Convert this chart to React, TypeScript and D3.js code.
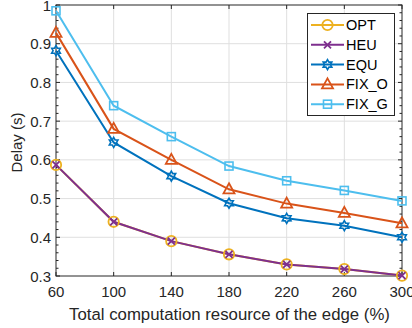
import React, { useEffect, useRef } from 'react';
import * as d3 from 'd3';

const resources = [60, 100, 140, 180, 220, 260, 300];
const optDelay = [0.587, 0.44, 0.39, 0.356, 0.33, 0.318, 0.301];
const heuDelay = [0.587, 0.44, 0.39, 0.356, 0.33, 0.318, 0.301];
const equDelay = [0.882, 0.645, 0.558, 0.488, 0.449, 0.43, 0.4];
const fixODelay = [0.928, 0.68, 0.6, 0.524, 0.487, 0.463, 0.436];
const fixGDelay = [0.985, 0.74, 0.66, 0.584, 0.546, 0.521, 0.494];
const yTicks = [0.3, 0.4, 0.5, 0.6, 0.7, 0.8, 0.9, 1];

const series = [
  { name: 'OPT', values: optDelay, color: '#EDB120', marker: 'circle' },
  { name: 'HEU', values: heuDelay, color: '#7E2F8E', marker: 'x' },
  { name: 'EQU', values: equDelay, color: '#0072BD', marker: 'hex' },
  { name: 'FIX_O', values: fixODelay, color: '#D95319', marker: 'tri' },
  { name: 'FIX_G', values: fixGDelay, color: '#4DBEEE', marker: 'square' },
];

const W = 412, H = 328;
const margin = { top: 5, right: 10, bottom: 52, left: 56 };
const font = 'Liberation Sans, Arial, sans-serif';

function drawMarker(g: any, kind: string, x: number, y: number, color: string) {
  if (kind === 'circle') {
    g.append('circle').attr('cx', x).attr('cy', y).attr('r', 5.2)
      .attr('fill', 'none').attr('stroke', color).attr('stroke-width', 1.8);
  } else if (kind === 'x') {
    const s = 3.5;
    g.append('path').attr('d', `M${x - s},${y - s}L${x + s},${y + s}M${x - s},${y + s}L${x + s},${y - s}`)
      .attr('stroke', color).attr('stroke-width', 1.8).attr('fill', 'none');
  } else if (kind === 'hex') {
    const pts: string[] = [];
    for (let i = 0; i < 12; i++) {
      const r = i % 2 === 0 ? 5 : 2.9;
      const a = -Math.PI / 2 + (i * Math.PI) / 6;
      pts.push(`${x + r * Math.cos(a)},${y + r * Math.sin(a)}`);
    }
    g.append('path').attr('d', 'M' + pts.join('L') + 'Z')
      .attr('fill', 'none').attr('stroke', color).attr('stroke-width', 1.6);
  } else if (kind === 'tri') {
    g.append('path').attr('d', `M${x},${y - 6}L${x + 5.5},${y + 4}L${x - 5.5},${y + 4}Z`)
      .attr('fill', 'none').attr('stroke', color).attr('stroke-width', 1.8);
  } else {
    g.append('rect').attr('x', x - 4).attr('y', y - 4).attr('width', 8).attr('height', 8)
      .attr('fill', 'none').attr('stroke', color).attr('stroke-width', 1.6);
  }
}

export default function App() {
  const ref = useRef<SVGSVGElement>(null);

  useEffect(() => {
    const svg = d3.select(ref.current);
    svg.selectAll('*').remove();
    const x0 = margin.left, x1 = W - margin.right;
    const y0 = H - margin.bottom, y1 = margin.top;
    const x = d3.scaleLinear().domain([60, 300]).range([x0, x1]);
    const y = d3.scaleLinear().domain([0.3, 1]).range([y0, y1]);

    svg.append('rect').attr('x', 0).attr('y', 0).attr('width', W).attr('height', H).attr('fill', '#fff');

    // grid
    const grid = svg.append('g').attr('stroke', '#dfdfdf').attr('stroke-width', 1);
    resources.slice(1, -1).forEach((v) => {
      grid.append('line').attr('x1', x(v)).attr('x2', x(v)).attr('y1', y0).attr('y2', y1);
    });
    yTicks.slice(1, -1).forEach((v) => {
      grid.append('line').attr('x1', x0).attr('x2', x1).attr('y1', y(v)).attr('y2', y(v));
    });

    // axes
    const ax = svg.append('g').attr('stroke', '#262626').attr('stroke-width', 1).attr('fill', 'none');
    ax.append('rect').attr('x', x0).attr('y', y1).attr('width', x1 - x0).attr('height', y0 - y1);
    resources.forEach((v) => {
      ax.append('line').attr('x1', x(v)).attr('x2', x(v)).attr('y1', y0).attr('y2', y0 - 4);
      ax.append('line').attr('x1', x(v)).attr('x2', x(v)).attr('y1', y1).attr('y2', y1 + 4);
    });
    d3.range(0.3, 1.0001, 0.02).forEach((v) => {
      const major = Math.abs(v * 10 - Math.round(v * 10)) < 1e-6;
      const len = major ? 4 : 2.5;
      ax.append('line').attr('x1', x0).attr('x2', x0 + len).attr('y1', y(v)).attr('y2', y(v));
      ax.append('line').attr('x1', x1).attr('x2', x1 - len).attr('y1', y(v)).attr('y2', y(v));
    });

    const txt = svg.append('g').attr('font-family', font).attr('fill', '#262626').attr('font-size', 15);
    resources.forEach((v) => {
      txt.append('text').attr('x', x(v)).attr('y', y0 + 21).attr('text-anchor', 'middle').text(v);
    });
    yTicks.forEach((v) => {
      txt.append('text').attr('x', x0 - 5).attr('y', y(v) + 5.5).attr('text-anchor', 'end').text(d3.format('~g')(v));
    });
    txt.append('text').attr('x', 229.5).attr('y', 320).attr('text-anchor', 'middle')
      .attr('font-size', 16.8).text('Total computation resource of the edge (%)');
    txt.append('text').attr('transform', `translate(22,142.5) rotate(-90)`)
      .attr('text-anchor', 'middle').attr('font-size', 15).text('Delay (s)');

    // lines
    const line = d3.line<number>().x((_, i) => x(resources[i])).y((d) => y(d));
    series.forEach((s) => {
      svg.append('path').attr('d', line(s.values)).attr('fill', 'none').attr('stroke', s.color).attr('stroke-width', 2);
    });
    series.forEach((s) => {
      const g = svg.append('g');
      s.values.forEach((v, i) => drawMarker(g, s.marker, x(resources[i]), y(v), s.color));
    });

    // legend
    const lg = svg.append('g');
    lg.append('rect').attr('x', 307.5).attr('y', 13.5).attr('width', 87).attr('height', 102)
      .attr('fill', '#fff').attr('stroke', '#262626').attr('stroke-width', 1);
    series.forEach((s, i) => {
      const ly = 25 + i * 19.8;
      lg.append('line').attr('x1', 311).attr('x2', 344).attr('y1', ly).attr('y2', ly)
        .attr('stroke', s.color).attr('stroke-width', 2);
      drawMarker(lg, s.marker, 327.5, ly, s.color);
      lg.append('text').attr('x', 346).attr('y', ly + 5).attr('font-family', font).attr('font-size', 14.5)
        .attr('fill', '#000').text(s.name);
    });
  }, []);

  return <svg ref={ref} width={W} height={H} style={{ position: 'absolute', left: 0, top: 0 }} />;
}
